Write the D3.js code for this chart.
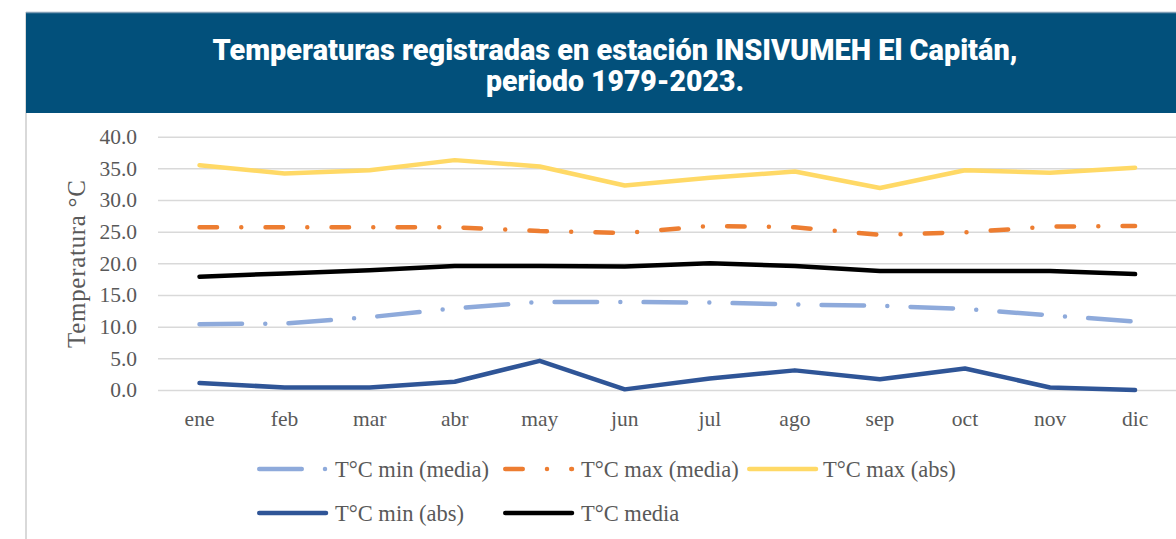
<!DOCTYPE html>
<html>
<head>
<meta charset="utf-8">
<script src="https://cdn.jsdelivr.net/npm/d3@7"></script>
<style>
  html, body { margin: 0; padding: 0; background: #fff; }
  svg { display: block; }
</style>
</head>
<body>
<svg id="chart" width="1176" height="539"></svg>
<script>
// ---- data ----
var months = ["ene", "feb", "mar", "abr", "may", "jun", "jul", "ago", "sep", "oct", "nov", "dic"];
var minMedia = [10.4, 10.5, 11.5, 12.9, 13.9, 13.9, 13.8, 13.5, 13.3, 12.8, 11.8, 10.8];
var maxMedia = [25.7, 25.7, 25.7, 25.7, 25.1, 24.8, 25.9, 25.7, 24.5, 24.9, 25.8, 25.9];
var maxAbs = [35.5, 34.2, 34.7, 36.3, 35.3, 32.3, 33.5, 34.5, 31.9, 34.7, 34.3, 35.1];
var minAbs = [1.1, 0.4, 0.4, 1.3, 4.6, 0.1, 1.8, 3.1, 1.7, 3.4, 0.4, 0.0];
var media = [17.9, 18.4, 18.9, 19.6, 19.6, 19.5, 20.0, 19.6, 18.8, 18.8, 18.8, 18.3];
var yTicks = [0, 5, 10, 15, 20, 25, 30, 35, 40];
var titleLines = ["Temperaturas registradas en estación INSIVUMEH El Capitán,", "periodo 1979-2023."];

var series = [
  { name: "T°C min (media)", values: minMedia, color: "#8eaadb", dash: "42.5,23.25,0,23.25" },
  { name: "T°C max (media)", values: maxMedia, color: "#ed7d31", dash: "17.5,24.25,0,24.25" },
  { name: "T°C max (abs)", values: maxAbs, color: "#ffd966", dash: null },
  { name: "T°C min (abs)", values: minAbs, color: "#2f5597", dash: null },
  { name: "T°C media", values: media, color: "#000000", dash: null }
];

var svg = d3.select("#chart");
var serif = "'Liberation Serif', 'DejaVu Serif', serif";
var grey = "#595959";

// ---- marco y cabecera ----
svg.append("line").attr("x1", 26).attr("x2", 26).attr("y1", 12).attr("y2", 539)
  .attr("stroke", "#d9d9d9").attr("stroke-width", 2);
svg.append("rect").attr("x", 26).attr("y", 12).attr("width", 1150).attr("height", 101).attr("fill", "#02507b");
svg.append("line").attr("x1", 26).attr("x2", 1176).attr("y1", 12.5).attr("y2", 12.5)
  .attr("stroke", "#7f9db5").attr("stroke-width", 1.5);

var tl = [{ y: 60, len: 805 }, { y: 91, len: 258 }];
titleLines.forEach(function (t, i) {
  svg.append("text").attr("x", 615).attr("y", tl[i].y).attr("text-anchor", "middle")
    .attr("fill", "#fff").attr("font-family", "Roboto, 'Open Sans', sans-serif").attr("font-weight", 900)
    .attr("font-size", 29).attr("textLength", tl[i].len).attr("lengthAdjust", "spacingAndGlyphs")
    .text(t);
});

// ---- escalas ----
var x = d3.scaleBand().domain(months).range([157, 1177.6]);
var y = d3.scaleLinear().domain([0, 40]).range([390, 136.7]);
var cx = function (d, i) { return x(months[i]) + x.bandwidth() / 2; };

// ---- ejes ----
var gy = svg.append("g").attr("transform", "translate(158,0)")
  .call(d3.axisLeft(y).tickValues(yTicks).tickSize(-1030).tickPadding(21).tickFormat(function (d) { return d.toFixed(1); }));
gy.select(".domain").remove();
gy.selectAll(".tick line").attr("stroke", "#d9d9d9").attr("stroke-width", 1.5);
gy.selectAll(".tick text").attr("font-family", serif).attr("font-size", 21.5).attr("fill", grey);

var gx = svg.append("g").attr("transform", "translate(0,390)")
  .call(d3.axisBottom(x).tickSize(0));
gx.select(".domain").remove();
gx.selectAll(".tick text").attr("y", 36).attr("dy", 0).attr("font-family", serif).attr("font-size", 21.5).attr("fill", grey);

svg.append("text").attr("transform", "translate(85,264) rotate(-90)").attr("text-anchor", "middle")
  .attr("font-family", serif).attr("font-size", 25).attr("fill", grey).attr("textLength", 168)
  .text("Temperatura °C");

// ---- líneas ----
var line = d3.line().x(cx).y(function (d) { return y(d); });
series.forEach(function (s) {
  svg.append("path").datum(s.values).attr("d", line).attr("fill", "none")
    .attr("stroke", s.color).attr("stroke-width", 4.5)
    .attr("stroke-linecap", "round").attr("stroke-linejoin", "round")
    .attr("stroke-dasharray", s.dash);
});

// ---- leyenda ----
var legPos = [[257, 469], [503, 469], [747, 469], [257, 513], [503, 513]];
series.forEach(function (s, i) {
  var p = legPos[i], g = svg.append("g");
  g.append("line").attr("x1", p[0] + 2.25).attr("x2", p[0] + 69).attr("y1", p[1]).attr("y2", p[1])
    .attr("stroke", s.color).attr("stroke-width", 4.5).attr("stroke-linecap", "round")
    .attr("stroke-dasharray", s.dash);
  g.append("text").attr("x", p[0] + (i === 2 ? 76 : 78)).attr("y", p[1]).attr("dy", "0.35em")
    .attr("font-family", serif).attr("font-size", 22.5).attr("fill", grey).text(s.name);
});
</script>
</body>
</html>
